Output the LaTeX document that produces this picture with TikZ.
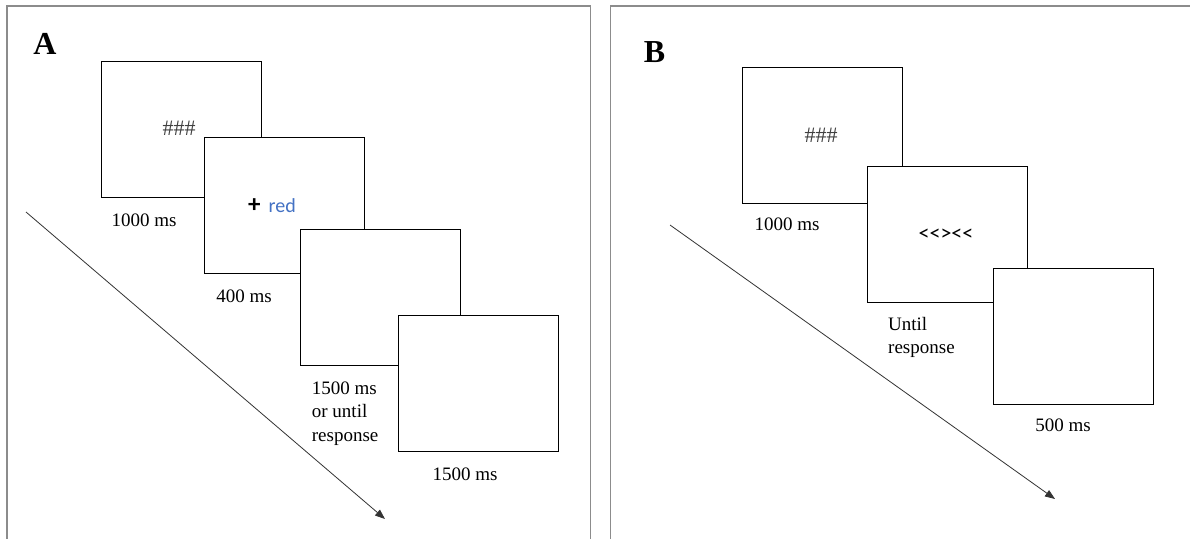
\documentclass[tikz,border=0pt]{standalone}
\usepackage{fontspec}
\setmainfont{Liberation Serif}
\newfontfamily\calib{Carlito}
\usetikzlibrary{arrows.meta}
\definecolor{wordblue}{HTML}{4472C4}
\definecolor{framegray}{HTML}{8C8C8C}
\begin{document}
\begin{tikzpicture}[x=1pt,y=-1pt,
  panel/.style={draw=framegray,line width=1.3pt},
  screen/.style={draw=black,line width=1pt,fill=white,minimum width=160pt,minimum height=136pt,inner sep=0pt,outer sep=0pt},
  lbl/.style={font=\fontsize{19}{23.5}\selectfont,inner sep=0pt},
  letter/.style={font=\fontsize{32}{36}\selectfont\bfseries,inner sep=0pt},
  hashes/.style={font=\fontsize{22}{24}\selectfont,text=black!75,inner sep=0pt},
  sans/.style={font=\fontsize{20}{24}\selectfont\calib,inner sep=0pt},
  flanker/.style={font=\fontsize{22}{24}\selectfont\calib,inner sep=0pt},
  timearrow/.style={draw=black!80,line width=0.8pt,-{Triangle[length=10pt,width=7.5pt]}}]
\useasboundingbox (0,0) rectangle (1190,538);
\fill[white] (0,0) rectangle (1190,538);
% panel frames
\draw[panel] (7,540) -- (7,6) -- (590.7,6) -- (590.7,540);
\draw[panel] (610.7,540) -- (610.7,6) -- (1192,6);
% Panel A
\node[letter] (A) at (45,44) {A};
\coordinate (a0) at (26,212);
\coordinate (a1) at (385,519);
\draw[timearrow] (a0) -- (a1);
\node[screen] (a1box) at (181,129.5) {};
\node[hashes] (a1txt) at (179,128) {\#\#\#};
\node[screen] (a2box) at (284,205.5) {};
\node[sans] (a2txt) at (272,206) {{\fontsize{25}{24}\selectfont\textbf{+}}\hspace{0.4em}\textcolor{wordblue}{red}};
\node[screen] (a3box) at (380,297.5) {};
\node[screen] (a4box) at (478.5,383.5) {};
\node[lbl] (a1lbl) at (144,220) {1000 ms};
\node[lbl] (a2lbl) at (244,296) {400 ms};
\node[lbl,align=left,anchor=north west] (a3lbl) at (311.7,381.5) {1500 ms\\or until\\response};
\node[lbl] (a4lbl) at (465,474) {1500 ms};
% Panel B
\node[letter] (B) at (654.6,52) {B};
\coordinate (b0) at (670,225);
\coordinate (b1) at (1055,499);
\draw[timearrow] (b0) -- (b1);
\node[screen] (b1box) at (822,135) {};
\node[hashes] (b1txt) at (821,135) {\#\#\#};
\node[screen] (b2box) at (947,234.5) {};
\node[flanker] (b2txt) at (946,235) {<<><<};
\node[screen] (b3box) at (1073,336) {};
\node[lbl] (b1lbl) at (787,224) {1000 ms};
\node[lbl,align=left,anchor=north west] (b2lbl) at (888,317) {Until\\response};
\node[lbl] (b3lbl) at (1063,425) {500 ms};
\end{tikzpicture}
\end{document}
